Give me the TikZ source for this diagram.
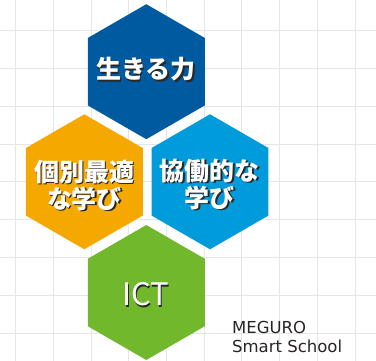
\documentclass[tikz,border=0pt]{standalone}
\usepackage{fontspec}
\usepackage{tikz}
\usetikzlibrary{shapes.geometric}

\newfontfamily\jpfont{Noto Sans CJK JP}
\newfontfamily\mgfont{DejaVu Sans}

\definecolor{gridgray}{RGB}{230,230,230}
\definecolor{ikirucol}{RGB}{0,90,160}
\definecolor{kobetsucol}{RGB}{245,168,0}
\definecolor{kyodocol}{RGB}{0,155,218}
\definecolor{ictcol}{RGB}{113,184,44}
\definecolor{txtshadow}{RGB}{40,40,40}
\definecolor{megcol}{RGB}{40,36,38}

% white text with a small dark shadow
\newcommand\shtxt[1]{\leavevmode\rlap{\kern1.4pt\raisebox{-1.4pt}{\color{txtshadow}#1}}#1}

\begin{document}
\begin{tikzpicture}[x=1pt,y=1pt,yscale=-1,xscale=1,
  hexcell/.style={regular polygon, regular polygon sides=6, regular polygon rotate=30, minimum size=135pt, inner sep=0pt, draw=none},
  hextext/.style={text=white, align=center, inner sep=0pt, font=\jpfont\bfseries\fontsize{25}{27.5}\selectfont}]
\useasboundingbox (0,0) rectangle (376,361);

%Grid
\foreach \k in {0,...,9} \draw [gridgray, line width=1pt] (15.7+37.7*\k,0) -- (15.7+37.7*\k,361);
\foreach \k in {0,...,8} \draw [gridgray, line width=1pt] (0,30.7+37.8*\k) -- (376,30.7+37.8*\k);

%Shape: Hexagon
\node [hexcell, fill=ikirucol] (ikiru) at (146.3,71.7) {};
%Shape: Hexagon
\node [hexcell, fill=kobetsucol] (kobetsu) at (84.3,181.8) {};
%Shape: Hexagon
\node [hexcell, fill=kyodocol] (kyodo) at (210,181.8) {};
%Shape: Hexagon
\node [hexcell, fill=ictcol] (ict) at (146.3,292.5) {};

% Text Node
\node [hextext] (ikirulbl) at (146,70) {\shtxt{生きる力}};
% Text Node
\node [hextext] (kobetsulbl) at (84.5,186) {\shtxt{個別最適}\\\shtxt{な学び}};
% Text Node
\node [hextext] (kyodolbl) at (210,185) {\shtxt{協働的な}\\\shtxt{学び}};
% Text Node
\node [text=white, inner sep=0pt, font=\jpfont\fontsize{31}{31}\selectfont] (ictlbl) at (145.5,295) {\shtxt{ICT}};
% Text Node
\node [anchor=north west, align=left, inner sep=0pt, text=megcol, font=\mgfont\fontsize{16.5}{18.5}\selectfont] (meguro) at (232,321.5) {MEGURO\\Smart School};

\end{tikzpicture}
\end{document}
